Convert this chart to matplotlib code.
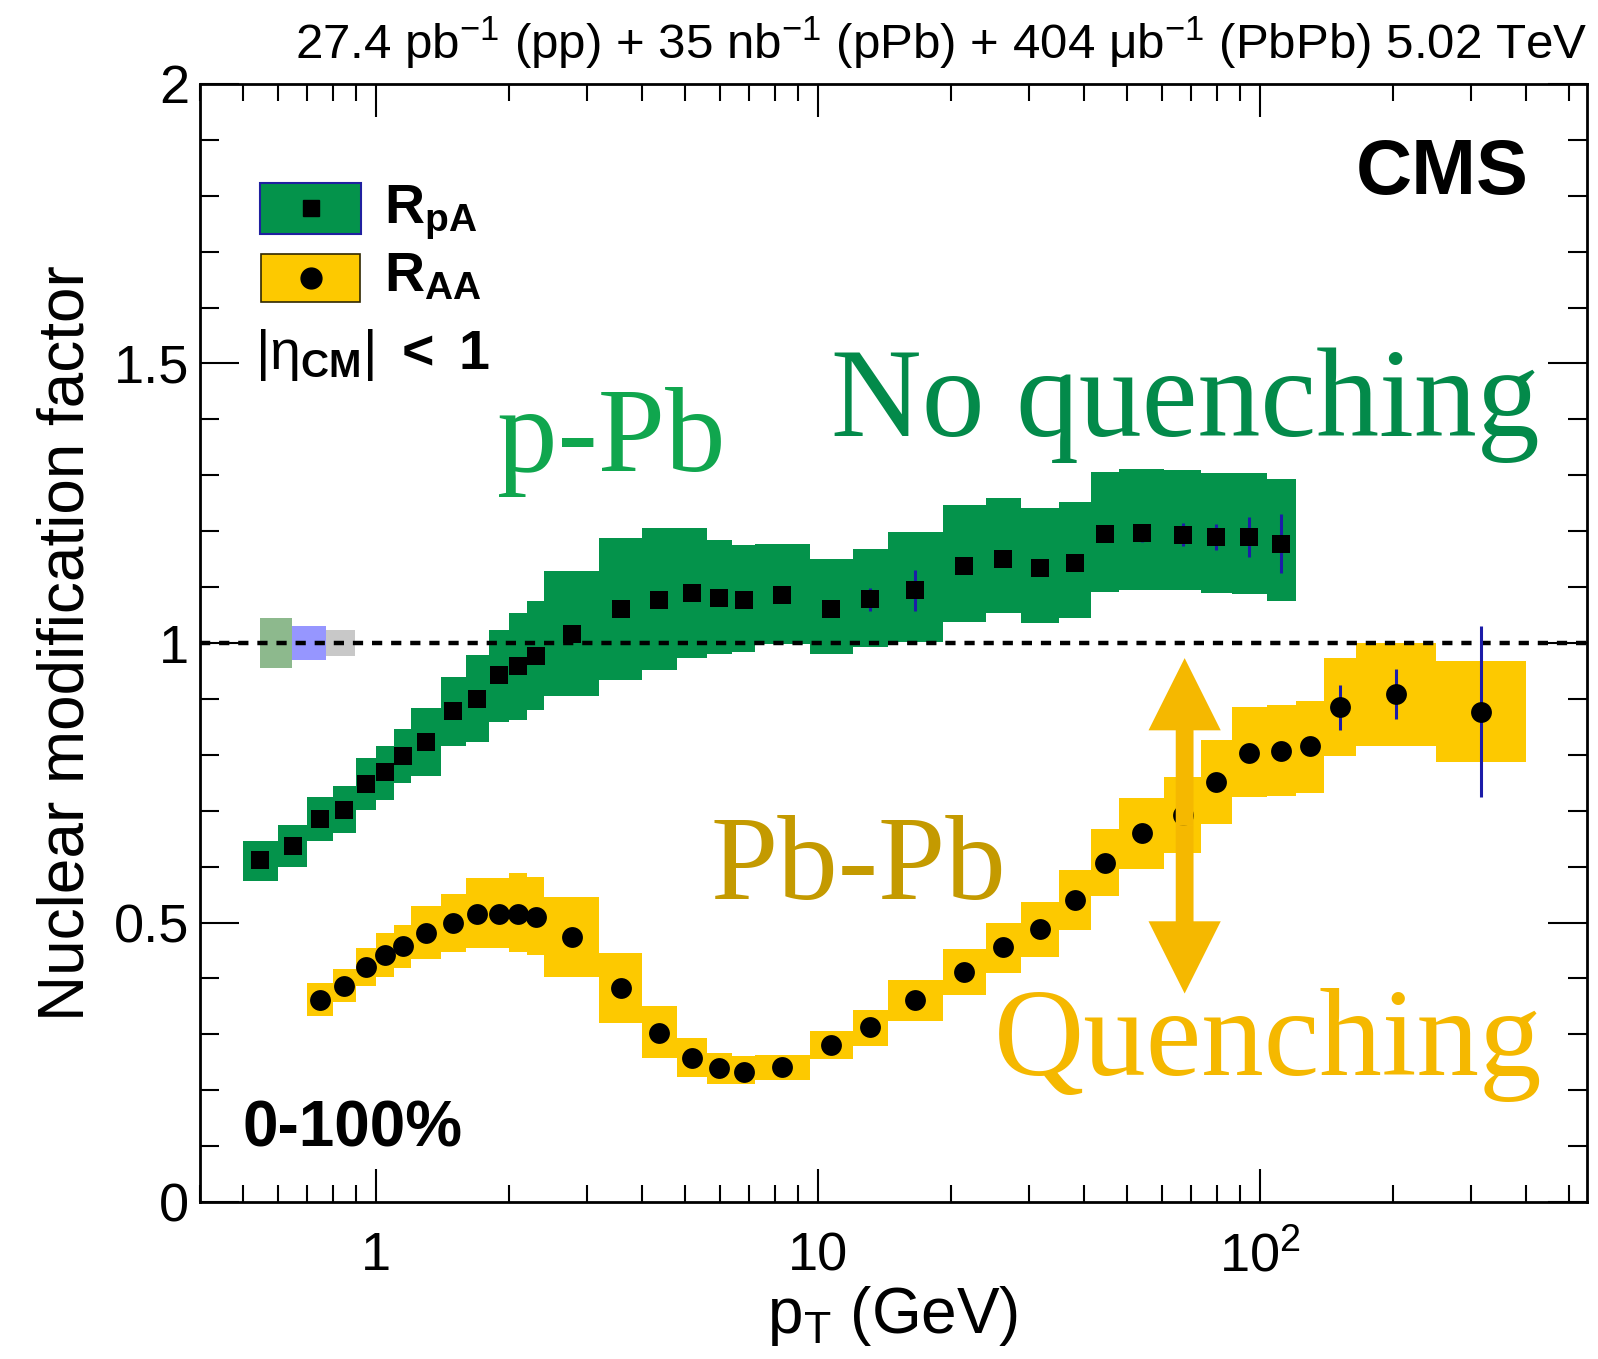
import numpy as np
import matplotlib.pyplot as plt
from matplotlib.patches import Rectangle, FancyArrowPatch, ArrowStyle
from matplotlib.ticker import FixedLocator, MultipleLocator, NullFormatter, LogLocator

plt.rcParams['font.family'] = 'Liberation Sans'
plt.rcParams['mathtext.fontset'] = 'custom'
plt.rcParams['mathtext.rm'] = 'Liberation Sans'
plt.rcParams['mathtext.it'] = 'Liberation Sans:italic'
plt.rcParams['mathtext.bf'] = 'Liberation Sans:bold'

# p-Pb, R_pA
rpa_edges = np.array([0.5, 0.6, 0.7, 0.8, 0.9, 1.0, 1.1, 1.2, 1.4, 1.6, 1.8, 2.0, 2.2, 2.4,
                      3.2, 4.0, 4.8, 5.6, 6.4, 7.2, 9.6, 12.0, 14.4, 19.2, 24.0, 28.8,
                      35.2, 41.6, 48.0, 60.8, 73.6, 86.4, 103.6, 120.8])
rpa_val = np.array([0.612, 0.637, 0.685, 0.701, 0.748, 0.769, 0.798, 0.823, 0.878, 0.900,
                    0.943, 0.959, 0.977, 1.017, 1.060, 1.077, 1.089, 1.081, 1.077, 1.085,
                    1.060, 1.078, 1.094, 1.137, 1.150, 1.134, 1.143, 1.195, 1.196, 1.194,
                    1.190, 1.190, 1.178])
rpa_stat = np.array([0.005] * 21 + [0.020, 0.037, 0.010, 0.010, 0.010, 0.012, 0.012,
                                    0.015, 0.020, 0.023, 0.036, 0.053])
rpa_sys_lo = np.array([0.575, 0.600, 0.645, 0.660, 0.701, 0.719, 0.749, 0.762, 0.815, 0.823,
                       0.859, 0.863, 0.881, 0.905, 0.934, 0.952, 0.973, 0.981, 0.984, 0.998,
                       0.981, 0.993, 1.002, 1.038, 1.053, 1.036, 1.044, 1.092, 1.095, 1.094,
                       1.090, 1.088, 1.076])
rpa_sys_hi = np.array([0.646, 0.674, 0.724, 0.745, 0.794, 0.816, 0.847, 0.883, 0.940, 0.979,
                       1.023, 1.054, 1.076, 1.128, 1.187, 1.205, 1.205, 1.184, 1.175, 1.177,
                       1.151, 1.169, 1.199, 1.247, 1.260, 1.241, 1.253, 1.306, 1.311, 1.309,
                       1.305, 1.304, 1.293])

# Pb-Pb, R_AA
raa_edges = np.array([0.7, 0.8, 0.9, 1.0, 1.1, 1.2, 1.4, 1.6, 1.8, 2.0, 2.2, 2.4, 3.2, 4.0,
                      4.8, 5.6, 6.4, 7.2, 9.6, 12.0, 14.4, 19.2, 24.0, 28.8, 35.2, 41.6,
                      48.0, 60.8, 73.6, 86.4, 103.6, 120.8, 140.0, 165.0, 250.0, 400.0])
raa_val = np.array([0.361, 0.386, 0.421, 0.442, 0.458, 0.481, 0.500, 0.516, 0.516, 0.516,
                    0.510, 0.474, 0.382, 0.303, 0.258, 0.239, 0.233, 0.242, 0.281, 0.313,
                    0.361, 0.412, 0.457, 0.488, 0.540, 0.607, 0.660, 0.692, 0.752, 0.804,
                    0.807, 0.816, 0.885, 0.909, 0.877])
raa_stat = np.array([0.005] * 31 + [0.015, 0.040, 0.045, 0.153])
raa_sys_lo = np.array([0.333, 0.357, 0.386, 0.403, 0.418, 0.434, 0.448, 0.454, 0.454, 0.448,
                       0.442, 0.402, 0.320, 0.257, 0.224, 0.211, 0.211, 0.219, 0.255, 0.279,
                       0.323, 0.370, 0.409, 0.439, 0.487, 0.547, 0.595, 0.625, 0.676, 0.724,
                       0.726, 0.732, 0.797, 0.816, 0.788])
raa_sys_hi = np.array([0.391, 0.416, 0.454, 0.481, 0.496, 0.530, 0.551, 0.579, 0.579, 0.588,
                       0.581, 0.545, 0.445, 0.351, 0.293, 0.266, 0.261, 0.263, 0.306, 0.343,
                       0.397, 0.452, 0.499, 0.537, 0.594, 0.668, 0.723, 0.761, 0.826, 0.885,
                       0.889, 0.896, 0.974, 1.000, 0.968])

# normalisation uncertainties drawn at unity
norm_edges = [0.548, 0.646, 0.769, 0.896]
norm_unc = [0.045, 0.030, 0.023]
norm_colors = ['#8db98d', '#9696ff', '#c8c8c8']

green = '#04934b'
yellow = '#fdc900'
amber = '#f5b800'
blue = '#1c1ca8'

fig = plt.figure(figsize=(15.98, 13.59), dpi=100)
ax = fig.add_axes([0.1252, 0.1155, 0.8679, 0.8227])
ax.set_xscale('log')
ax.set_xlim(0.4, 550)
ax.set_ylim(0, 2)


def band(edges, lo, hi, color):
    ax.fill_between(edges, np.append(lo, lo[-1]), np.append(hi, hi[-1]),
                    step='post', color=color, lw=0, zorder=2)


band(rpa_edges, rpa_sys_lo, rpa_sys_hi, green)
band(raa_edges, raa_sys_lo, raa_sys_hi, yellow)

for i in range(3):
    ax.fill_between(norm_edges[i:i + 2], 1 - norm_unc[i], 1 + norm_unc[i],
                    color=norm_colors[i], lw=0, zorder=2)

ax.axhline(1, color='black', lw=3.2, dashes=(2.3, 2.0), zorder=3)

rpa_x = np.sqrt(rpa_edges[:-1] * rpa_edges[1:])
raa_x = np.sqrt(raa_edges[:-1] * raa_edges[1:])
ax.errorbar(rpa_x, rpa_val, yerr=rpa_stat, fmt='s', ms=13, mfc='black', mec='black',
            mew=0, ecolor=blue, elinewidth=2.2, capsize=0, zorder=4)
ax.errorbar(raa_x, raa_val, yerr=raa_stat, fmt='o', ms=15, mfc='black', mec='black',
            mew=0, ecolor=blue, elinewidth=2.2, capsize=0, zorder=4)

# double-headed arrow between the two regimes
arrow_x = 67.6
arrow_lo, arrow_hi = 0.373, 0.973
arrow_mid = 0.5 * (arrow_lo + arrow_hi)
style = ArrowStyle.Simple(head_length=52, head_width=52, tail_width=12.8)
for tip in (arrow_hi, arrow_lo):
    ax.add_patch(FancyArrowPatch((arrow_x, arrow_mid), (arrow_x, tip), arrowstyle=style,
                                 mutation_scale=1, shrinkA=0, shrinkB=0, color=amber,
                                 lw=0, zorder=6))

# axes styling
for s in ax.spines.values():
    s.set_linewidth(2)
ax.xaxis.set_major_locator(FixedLocator([1, 10, 100]))
ax.set_xticklabels(['1', '10', r'$10^{2}$'])
ax.xaxis.set_minor_locator(LogLocator(base=10, subs=np.arange(2, 10)))
ax.xaxis.set_minor_formatter(NullFormatter())
ax.yaxis.set_major_locator(FixedLocator([0, 0.5, 1, 1.5, 2]))
ax.set_yticklabels(['0', '0.5', '1', '1.5', '2'])
ax.yaxis.set_minor_locator(MultipleLocator(0.1))
ax.tick_params(which='both', direction='in', top=True, right=True, width=1.5,
               labelsize=39)
ax.tick_params(axis='x', which='major', length=24, pad=21)
ax.tick_params(axis='x', which='minor', length=12)
ax.tick_params(axis='y', which='major', length=28, pad=8)
ax.tick_params(axis='y', which='minor', length=14)

ax.set_xlabel(r'p$_{\mathrm{T}}$ (GeV)', fontsize=46)
ax.xaxis.set_label_coords(0.499, -0.073)
ax.set_ylabel('Nuclear modification factor', fontsize=46)
ax.yaxis.set_label_coords(-0.075, 0.5)

fig.text(0.9931, 0.9566,
         r'27.4 pb$^{-1}$ (pp) + 35 nb$^{-1}$ (pPb) + 404 μb$^{-1}$ (PbPb) 5.02 TeV',
         ha='right', va='baseline', fontsize=35.5)

ax.text(0.958, 0.902, 'CMS', transform=ax.transAxes, ha='right', va='baseline',
        fontsize=56, fontweight='bold')
ax.text(0.0306, 0.0496, '0-100%', transform=ax.transAxes, ha='left', va='baseline',
        fontsize=46, fontweight='bold')

# legend
ax.add_patch(Rectangle((0.0433, 0.8658), 0.0728, 0.0454, transform=ax.transAxes,
                       fc=green, ec='#2020a0', lw=1.5, zorder=5))
ax.add_patch(Rectangle((0.0440, 0.8053), 0.0714, 0.0426, transform=ax.transAxes,
                       fc=yellow, ec='#302800', lw=1.2, zorder=5))
ax.plot([0.080], [0.8888], 's', ms=12, color='black', transform=ax.transAxes, zorder=6)
ax.plot([0.0798], [0.8262], 'o', ms=15, color='black', transform=ax.transAxes, zorder=6)
ax.text(0.1327, 0.8757, r'$\mathbf{R}_{\mathbf{pA}}$', transform=ax.transAxes,
        fontsize=40, va='baseline')
ax.text(0.1327, 0.8142, r'$\mathbf{R}_{\mathbf{AA}}$', transform=ax.transAxes,
        fontsize=40, va='baseline')
ax.text(0.0397, 0.745, r'$|\mathrm{\eta}_{\mathbf{CM}}|$ $\mathbf{<}$ $\mathbf{1}$',
        transform=ax.transAxes, fontsize=40, va='baseline')

# annotations
serif = 'Liberation Serif'
ax.text(0.2141, 0.6539, 'p-Pb', transform=ax.transAxes, family=serif, fontsize=87,
        color='#10a64e', va='baseline', zorder=7)
ax.text(0.4547, 0.6851, 'No quenching', transform=ax.transAxes, family=serif,
        fontsize=90.5, color='#038a4a', va='baseline', zorder=7)
ax.text(0.3677, 0.2710, 'Pb-Pb', transform=ax.transAxes, family=serif, fontsize=87,
        color='#c49a00', va='baseline', zorder=7)
ax.text(0.5722, 0.1136, 'Quenching', transform=ax.transAxes, family=serif, fontsize=90,
        color=amber, va='baseline', zorder=7)

fig.savefig('out.png', dpi=100)
